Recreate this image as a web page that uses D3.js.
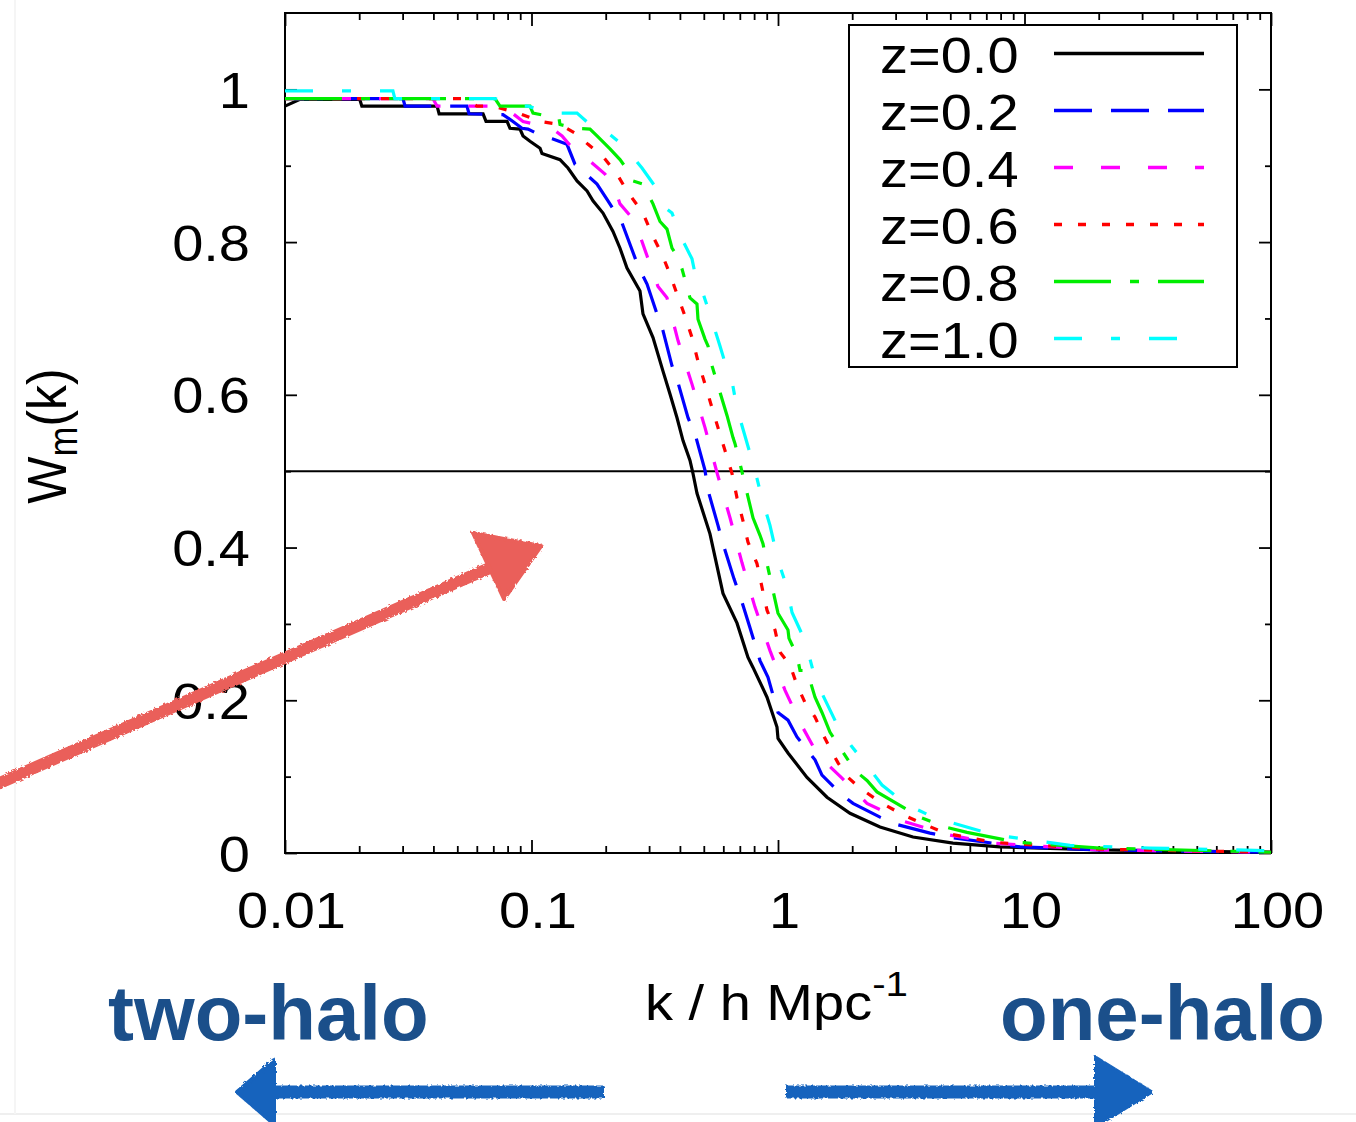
<!DOCTYPE html>
<html><head><meta charset="utf-8">
<script src="https://cdn.jsdelivr.net/npm/d3@7"></script>
<style>
body{margin:0;background:#fff}
svg{display:block}
text{font-family:"Liberation Sans",Arial,Helvetica,sans-serif}
</style>
</head><body>
<svg id="chart" width="1356" height="1122"></svg>
<script>
// ---------------- data ----------------
const zLabels = ["z=0.0", "z=0.2", "z=0.4", "z=0.6", "z=0.8", "z=1.0"];

const k_z00 = [0.0100,0.0115,0.0201,0.0205,0.0414,0.0422,0.0636,0.0654,0.0796,0.0818,0.0898,0.0924,0.0986,0.1083,0.1103,0.1305,0.1406,0.1530,0.1680,0.1776,0.1950,0.2141,0.2286,0.2440,0.2755,0.2833,0.3111,0.3415,0.3646,0.3893,0.4117,0.4395,0.4520,0.4692,0.5297,0.5982,0.6819,0.7556,0.7917,0.9024,0.9906,1.000,1.098,1.311,1.580,1.959,2.593,3.529,5.128,7.955,20.25,100];
const W_z00 = [0.978,0.987,0.987,0.978,0.978,0.968,0.968,0.958,0.958,0.949,0.948,0.939,0.932,0.923,0.916,0.908,0.897,0.880,0.867,0.854,0.838,0.814,0.792,0.766,0.736,0.706,0.675,0.631,0.601,0.570,0.540,0.514,0.497,0.471,0.418,0.340,0.301,0.256,0.243,0.204,0.165,0.150,0.131,0.099,0.073,0.052,0.034,0.021,0.013,0.008,0.004,0.001];

const k_z02 = [0.0100,0.0301,0.0307,0.0547,0.0558,0.0766,0.0841,0.0915,0.0968,0.1103,0.1222,0.1393,0.1501,0.1844,0.2043,0.2329,0.2704,0.2942,0.3229,0.3415,0.3715,0.3929,0.4314,0.4605,0.5057,0.5200,0.5709,0.5982,0.6630,0.7012,0.7698,0.8453,0.9108,1.000,1.098,1.194,1.413,1.508,1.818,2.015,2.593,3.067,4.136,5.128,9.59,20.25,100];
const W_z02 = [0.988,0.988,0.978,0.978,0.968,0.967,0.958,0.949,0.948,0.939,0.935,0.928,0.902,0.876,0.854,0.825,0.769,0.745,0.706,0.684,0.638,0.616,0.570,0.549,0.501,0.475,0.429,0.405,0.359,0.337,0.295,0.252,0.230,0.184,0.174,0.152,0.122,0.102,0.076,0.065,0.047,0.037,0.026,0.020,0.008,0.004,0.001];

const k_z04 = [0.0100,0.0398,0.0414,0.0698,0.0834,0.0924,0.1211,0.1330,0.1501,0.1727,0.1987,0.2141,0.2286,0.2630,0.2942,0.3259,0.3545,0.3929,0.4478,0.5057,0.5655,0.6387,0.7145,0.8065,0.9279,1.068,1.228,1.453,1.818,2.296,3.275,4.895,7.452,20.25,100];
const W_z04 = [0.988,0.988,0.978,0.978,0.969,0.958,0.949,0.939,0.919,0.906,0.889,0.876,0.850,0.827,0.782,0.742,0.727,0.671,0.614,0.557,0.498,0.439,0.380,0.322,0.265,0.213,0.171,0.128,0.098,0.065,0.041,0.024,0.013,0.004,0.001];

const k_z06 = [0.0100,0.0527,0.0601,0.0698,0.0882,0.1083,0.1305,0.1530,0.1696,0.1950,0.2223,0.2440,0.2833,0.3082,0.3383,0.3646,0.3893,0.4195,0.4478,0.4736,0.5057,0.5398,0.5709,0.6095,0.6507,0.6819,0.7211,0.7556,0.8217,0.8612,0.9024,0.9723,1.019,1.119,1.194,1.287,1.413,1.508,1.626,1.752,1.923,2.151,2.642,3.214,3.839,4.760,7.452,20.25,100];
const W_z06 = [0.988,0.988,0.978,0.978,0.969,0.958,0.954,0.941,0.928,0.912,0.889,0.867,0.838,0.810,0.784,0.758,0.732,0.703,0.675,0.644,0.614,0.583,0.557,0.527,0.497,0.465,0.435,0.407,0.379,0.348,0.318,0.292,0.263,0.246,0.220,0.197,0.178,0.158,0.137,0.118,0.099,0.085,0.065,0.050,0.039,0.026,0.014,0.005,0.001];

const k_z08 = [0.0100,0.0711,0.0745,0.0986,0.1014,0.1293,0.1305,0.1501,0.1727,0.1844,0.2082,0.2286,0.2395,0.2581,0.2833,0.3024,0.3111,0.3321,0.3545,0.3715,0.3821,0.4078,0.4395,0.4692,0.4736,0.5057,0.5200,0.5398,0.6210,0.6568,0.6693,0.7012,0.7917,0.8453,0.8691,0.9024,1.000,1.098,1.108,1.194,1.228,1.311,1.413,1.508,1.626,2.053,2.296,2.521,3.768,4.760,5.843,9.41,20.25,100];
const W_z08 = [0.988,0.988,0.978,0.978,0.969,0.962,0.954,0.949,0.948,0.939,0.922,0.908,0.899,0.880,0.876,0.858,0.850,0.827,0.817,0.792,0.786,0.765,0.727,0.719,0.699,0.673,0.664,0.638,0.573,0.544,0.536,0.510,0.439,0.416,0.405,0.379,0.314,0.292,0.281,0.259,0.239,0.239,0.204,0.184,0.158,0.108,0.095,0.080,0.047,0.034,0.027,0.014,0.0065,0.001];

const k_z10 = [0.0100,0.0274,0.0279,0.0711,0.0873,0.0968,0.1189,0.1530,0.1810,0.1950,0.2329,0.2630,0.2807,0.3170,0.3545,0.3715,0.4078,0.4478,0.4736,0.4962,0.5398,0.5816,0.6269,0.6507,0.6819,0.7347,0.8065,0.8612,0.9279,1.000,1.088,1.140,1.287,1.387,1.508,1.719,1.996,2.254,2.642,3.336,4.334,7.452,15.30,32.29,100];
const W_z10 = [0.998,0.998,0.988,0.988,0.978,0.978,0.969,0.969,0.948,0.948,0.928,0.908,0.897,0.873,0.843,0.838,0.804,0.778,0.740,0.733,0.697,0.664,0.629,0.618,0.582,0.546,0.501,0.464,0.429,0.383,0.348,0.315,0.278,0.239,0.209,0.171,0.139,0.118,0.089,0.063,0.046,0.024,0.010,0.0065,0.003];

const kSeries = [k_z00, k_z02, k_z04, k_z06, k_z08, k_z10];
const WSeries = [W_z00, W_z02, W_z04, W_z06, W_z08, W_z10];

const xTickValues = [0.01, 0.1, 1, 10, 100];
const xTickLabels = ["0.01", "0.1", "1", "10", "100"];
const yTickValues = [0, 0.2, 0.4, 0.6, 0.8, 1];
const yTickLabels = ["0", "0.2", "0.4", "0.6", "0.8", "1"];
const yMinorValues = [0.1, 0.3, 0.5, 0.7, 0.9];
const halfLevel = [0.5];
const leftNote = "two-halo";
const rightNote = "one-halo";

// ---------------- styles ----------------
const colors = ["#000000", "#0000ff", "#ff00ff", "#ff0000", "#00ee00", "#00ffff"];
const dashes = [null, "38,19", "19,28", "8,16", "57,19,9,19", "28,29,9,29"];
const SX = 1.12; // horizontal stretch of the chart lettering

const svg = d3.select("#chart");
const L = 285, R = 1271, T = 13, B = 853;

// faint page edges
svg.append("line").attr("x1", 0).attr("x2", 1356).attr("y1", 1114).attr("y2", 1114)
  .attr("stroke", "#efefef").attr("stroke-width", 2);
svg.append("line").attr("x1", 15).attr("x2", 15).attr("y1", 0).attr("y2", 1114)
  .attr("stroke", "#f5f5f5").attr("stroke-width", 2);

const x = d3.scaleLog().domain([0.01, 100]).range([L, R]);
const y = d3.scaleLinear().domain([0, 1.1]).range([B, T]);

const xMinor = [];
[0.01, 0.1, 1, 10].forEach(d => { for (let m = 2; m <= 9; m++) xMinor.push(+(d * m).toPrecision(3)); });

function styleAxis(g) {
  g.select(".domain").remove();
  g.selectAll("line").attr("stroke", "#000").attr("stroke-width", 1.8);
}

// bottom axis (ticks inside)
const gB = svg.append("g").attr("transform", `translate(0,${B})`)
  .call(d3.axisBottom(x).tickValues(xTickValues).tickFormat((d, i) => xTickLabels[i]).tickSize(-13).tickPadding(0));
styleAxis(gB);
gB.selectAll("text").attr("font-size", 50).attr("fill", "#000").attr("y", 0).attr("dy", 0)
  .attr("transform", `translate(6,75) scale(${SX},1)`);
svg.append("g").attr("transform", `translate(0,${B})`)
  .call(d3.axisBottom(x).tickValues(xMinor).tickFormat("").tickSize(-7)).call(styleAxis);
// top axis
svg.append("g").attr("transform", `translate(0,${T})`)
  .call(d3.axisTop(x).tickValues(xTickValues).tickFormat("").tickSize(-13)).call(styleAxis);
svg.append("g").attr("transform", `translate(0,${T})`)
  .call(d3.axisTop(x).tickValues(xMinor).tickFormat("").tickSize(-7)).call(styleAxis);
// left axis
const gL = svg.append("g").attr("transform", `translate(${L},0)`)
  .call(d3.axisLeft(y).tickValues(yTickValues).tickFormat((d, i) => yTickLabels[i]).tickSize(-12).tickPadding(0));
styleAxis(gL);
gL.selectAll("text").attr("font-size", 50).attr("fill", "#000").attr("x", 0).attr("dy", "0.36em")
  .attr("transform", `translate(-35,0) scale(${SX},1)`);
svg.append("g").attr("transform", `translate(${L},0)`)
  .call(d3.axisLeft(y).tickValues(yMinorValues).tickFormat("").tickSize(-6)).call(styleAxis);
// right axis
svg.append("g").attr("transform", `translate(${R},0)`)
  .call(d3.axisRight(y).tickValues(yTickValues).tickFormat("").tickSize(-12)).call(styleAxis);
svg.append("g").attr("transform", `translate(${R},0)`)
  .call(d3.axisRight(y).tickValues(yMinorValues).tickFormat("").tickSize(-6)).call(styleAxis);

// frame
svg.append("rect").attr("x", L).attr("y", T).attr("width", R - L).attr("height", B - T)
  .attr("fill", "none").attr("stroke", "#000").attr("stroke-width", 2);

// horizontal W = 0.5 line
svg.selectAll(".half").data(halfLevel).enter().append("line")
  .attr("x1", L).attr("x2", R).attr("y1", d => y(d)).attr("y2", d => y(d))
  .attr("stroke", "#000").attr("stroke-width", 2);

// curves
const line = d3.line().x(d => x(d[0])).y(d => y(d[1]));
const plot = svg.append("g");
kSeries.forEach((ks, i) => {
  const pts = ks.map((k, j) => [k, WSeries[i][j]]);
  plot.append("path").datum(pts).attr("d", line)
    .attr("fill", "none").attr("stroke", colors[i]).attr("stroke-width", 3.2)
    .attr("stroke-dasharray", dashes[i]).attr("stroke-linejoin", "miter");
});

// legend
const lg = svg.append("g");
lg.append("rect").attr("x", 849).attr("y", 25).attr("width", 388).attr("height", 342)
  .attr("fill", "#fff").attr("stroke", "#000").attr("stroke-width", 2);
zLabels.forEach((lab, i) => {
  const by = 73 + 57 * i;
  lg.append("text").attr("transform", `translate(880,${by}) scale(${SX},1)`)
    .attr("font-size", 50).attr("fill", "#000").text(lab);
  lg.append("line").attr("x1", 1054).attr("x2", 1204).attr("y1", by - 19.5).attr("y2", by - 19.5)
    .attr("stroke", colors[i]).attr("stroke-width", 3.6).attr("stroke-dasharray", dashes[i]);
});

// axis titles
const yl = svg.append("text").attr("transform", `translate(66,436) rotate(-90) scale(1,${SX})`)
  .attr("text-anchor", "middle").attr("font-size", 50).attr("fill", "#000");
yl.append("tspan").text("W");
yl.append("tspan").attr("font-size", 36).attr("dy", 10).text("m");
yl.append("tspan").attr("dy", -10).text("(k)");

const xl = svg.append("text").attr("transform", `translate(645,1020) scale(${SX},1)`)
  .attr("font-size", 50).attr("fill", "#000");
xl.append("tspan").text("k / h Mpc");
xl.append("tspan").attr("font-size", 36).attr("dy", -24).text("-1");

// annotations
const noteColor = "#1b4f8a";
svg.append("text").attr("x", 108).attr("y", 1040).attr("font-size", 78).attr("font-weight", "bold")
  .attr("fill", noteColor).text(leftNote);
svg.append("text").attr("x", 1000).attr("y", 1040).attr("font-size", 78).attr("font-weight", "bold")
  .attr("fill", noteColor).text(rightNote);

// sketchy arrows
const defs = svg.append("defs");
const f = defs.append("filter").attr("id", "rough").attr("x", "-10%").attr("y", "-10%").attr("width", "120%").attr("height", "120%");
f.append("feTurbulence").attr("type", "fractalNoise").attr("baseFrequency", 0.35).attr("numOctaves", 2).attr("result", "n");
f.append("feDisplacementMap").attr("in", "SourceGraphic").attr("in2", "n").attr("scale", 4);

const red = "#ea5f5a";
const ra = svg.append("g").attr("filter", "url(#rough)");
ra.append("line").attr("x1", -5).attr("y1", 785).attr("x2", 492).attr("y2", 567)
  .attr("stroke", red).attr("stroke-width", 12).attr("stroke-linecap", "round");
ra.append("path").attr("d", "M473,533 L541,546 L504,599 Z").attr("fill", red)
  .attr("stroke", red).attr("stroke-width", 4).attr("stroke-linejoin", "round");

const blue = "#1763bd";
const ba = svg.append("g").attr("filter", "url(#rough)");
ba.append("line").attr("x1", 604).attr("y1", 1092).attr("x2", 262).attr("y2", 1092)
  .attr("stroke", blue).attr("stroke-width", 13);
ba.append("path").attr("d", "M237,1092 L274,1060 L274,1124 Z").attr("fill", blue)
  .attr("stroke", blue).attr("stroke-width", 4).attr("stroke-linejoin", "round");
ba.append("line").attr("x1", 786).attr("y1", 1092).attr("x2", 1120).attr("y2", 1092)
  .attr("stroke", blue).attr("stroke-width", 13);
ba.append("path").attr("d", "M1151,1092 L1096,1058 L1096,1126 Z").attr("fill", blue)
  .attr("stroke", blue).attr("stroke-width", 4).attr("stroke-linejoin", "round");
</script>
</body></html>
